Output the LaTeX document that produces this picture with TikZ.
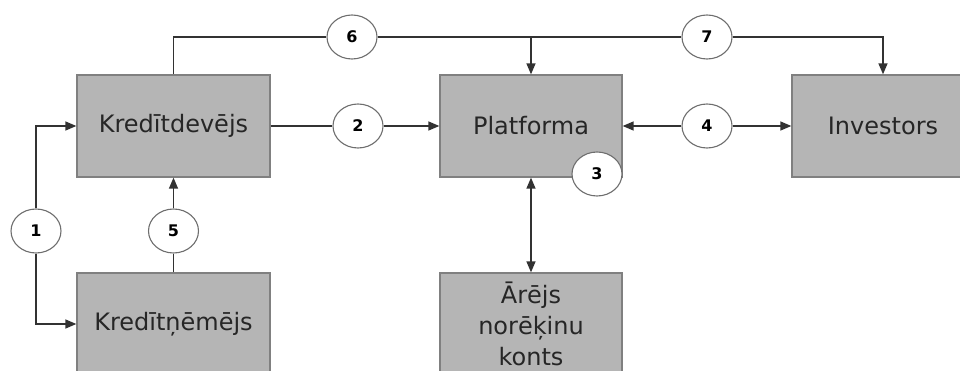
\documentclass[tikz,border=0pt]{standalone}
\usepackage{fontspec}
\setmainfont{DejaVu Sans}
\usetikzlibrary{arrows.meta,shapes.geometric}
\definecolor{boxfill}{RGB}{181,181,181}
\definecolor{boxline}{RGB}{128,128,128}
\definecolor{conn}{RGB}{50,50,50}
\definecolor{circline}{RGB}{110,110,110}
\tikzset{
  entity/.style={rectangle, fill=boxfill, draw=boxline, line width=1.3pt,
    minimum height=102pt, inner sep=0pt, align=center,
    font=\fontsize{24}{31}\selectfont, text=black!85},
  numlabel/.style={ellipse, fill=white, draw=circline, line width=1.1pt,
    minimum width=50pt, minimum height=44pt, inner sep=0pt,
    font=\fontsize{16}{16}\selectfont\bfseries},
  conn/.style={draw=conn, line width=1.4pt},
  arr/.style={conn, -{Triangle[length=11pt,width=9pt]}},
  darr/.style={conn, {Triangle[length=11pt,width=9pt]}-{Triangle[length=11pt,width=9pt]}}
}
\begin{document}
\begin{tikzpicture}[x=1pt,y=-1pt]
\useasboundingbox (0,0) rectangle (960,371);
\clip (0,0) rectangle (960,371);
% boxes
\node[entity, minimum width=193pt] (kd) at (173.5,126) {Kredītdevējs};
\node[entity, minimum width=182pt] (pl) at (531,126) {Platforma};
\node[entity, minimum width=182pt] (inv) at (883,126) {Investors};
\node[entity, minimum width=193pt] (kn) at (173.5,324) {Kredītņēmējs};
\node[entity, minimum width=182pt] (ar) at (531,324) {Ārējs\\norēķinu\\konts};
% numbered circles
\node[numlabel] (c6) at (352,37) {6};
\node[numlabel] (c7) at (707,37) {7};
\node[numlabel] (c2) at (358,126) {2};
\node[numlabel] (c4) at (707,126) {4};
\node[numlabel] (c1) at (36,231) {1};
\node[numlabel] (c5) at (173.5,231) {5};
% connectors
\draw[conn] (kd.north) |- (c6.west);
\draw[conn] (c6.east) -- (c7.west);
\draw[arr] (pl.north |- c6.east) -- (pl.north);
\draw[arr] (c7.east) -| (inv.north);
\draw[conn] (kd.east) -- (c2.west);
\draw[arr] (c2.east) -- (pl.west);
\draw[arr] (c4.west) -- (pl.east);
\draw[arr] (c4.east) -- (inv.west);
\draw[arr] (c1.north) |- (kd.west);
\draw[arr] (c1.south) |- (kn.west);
\draw[conn] (kn.north) -- (c5.south);
\draw[arr] (c5.north) -- (kd.south);
\draw[darr] (pl.south) -- (ar.north);
\node[numlabel] (c3) at (597,174) {3};
\end{tikzpicture}
\end{document}
